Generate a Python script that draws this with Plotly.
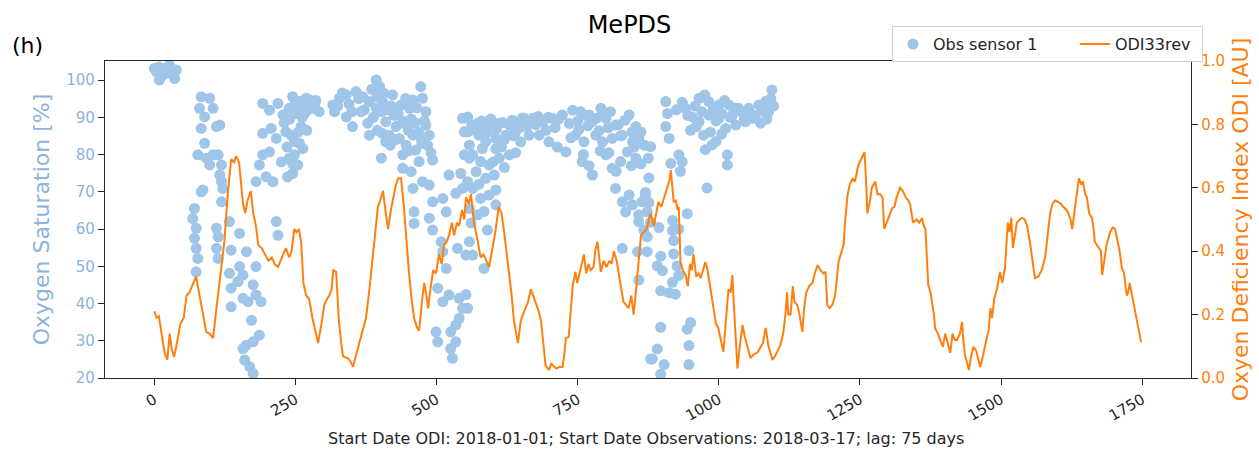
import plotly.graph_objects as go

# ---------------- data ----------------
# ODI33rev (days since 2018-01-01, index value)
odi_day = [0, 4, 8, 13, 18, 23, 27, 31, 35, 40, 46, 52, 57, 62, 67, 74, 79, 85, 92, 98,
           104, 110, 117, 124, 130, 136, 141, 145, 150, 154, 157, 161, 165, 171, 175, 180, 184, 190, 196, 202,
           208, 213, 219, 226, 233, 239, 243, 248, 252, 256, 260, 264, 269, 274, 280, 287, 290, 295, 301, 306,
           310, 314, 317, 322, 325, 327, 331, 334, 338, 343, 348, 352, 357, 361, 368, 375, 381, 387, 392, 396,
           400, 405, 410, 414, 419, 423, 428, 432, 437, 442, 446, 451, 455, 460, 465, 469, 474, 478, 482, 485,
           489, 494, 499, 504, 509, 513, 518, 522, 527, 531, 536, 540, 545, 549, 552, 557, 561, 566, 572, 578,
           583, 588, 593, 598, 604, 610, 615, 619, 624, 628, 633, 637, 641, 644, 647, 649, 655, 662, 667, 671,
           676, 681, 685, 689, 693, 699, 703, 706, 712, 718, 723, 726, 729, 734, 737, 741, 746, 749, 752, 757,
           761, 765, 769, 773, 778, 781, 785, 788, 791, 796, 801, 806, 810, 814, 819, 823, 827, 831, 836, 840,
           845, 849, 853, 856, 860, 862, 867, 872, 879, 885, 889, 893, 898, 903, 909, 912, 915, 918, 920, 924,
           927, 929, 932, 936, 941, 945, 949, 952, 955, 960, 964, 968, 972, 976, 980, 985, 991, 995, 999, 1004,
           1008, 1012, 1017, 1021, 1024, 1026, 1028, 1031, 1033, 1037, 1042, 1046, 1051, 1056, 1062, 1068, 1073, 1078, 1083, 1088,
           1092, 1095, 1100, 1105, 1109, 1114, 1118, 1121, 1123, 1127, 1131, 1134, 1139, 1143, 1148, 1151, 1155, 1160, 1166, 1170,
           1175, 1180, 1185, 1189, 1192, 1196, 1201, 1206, 1212, 1216, 1221, 1224, 1228, 1232, 1237, 1241, 1247, 1252, 1258, 1261,
           1263, 1267, 1271, 1277, 1281, 1286, 1290, 1293, 1300, 1307, 1311, 1315, 1321, 1326, 1331, 1336, 1339, 1344, 1350, 1355,
           1360, 1363, 1366, 1371, 1375, 1378, 1381, 1383, 1388, 1392, 1397, 1401, 1405, 1410, 1414, 1418, 1422, 1427, 1431, 1433,
           1436, 1440, 1443, 1447, 1451, 1456, 1460, 1463, 1468, 1472, 1475, 1478, 1481, 1484, 1488, 1493, 1498, 1502, 1507, 1510,
           1512, 1515, 1518, 1521, 1525, 1528, 1533, 1537, 1542, 1546, 1551, 1555, 1560, 1566, 1572, 1578, 1583, 1587, 1591, 1596,
           1601, 1606, 1610, 1613, 1616, 1619, 1623, 1626, 1630, 1634, 1638, 1642, 1645, 1649, 1652, 1656, 1661, 1664, 1666, 1670,
           1673, 1677, 1679, 1683, 1687, 1693, 1698, 1702, 1706, 1710, 1714, 1718, 1721, 1723, 1725, 1728, 1731, 1734, 1738, 1742,
           1748]
odi_val = [0.21, 0.19, 0.195, 0.14, 0.08, 0.057, 0.14, 0.09, 0.066, 0.11, 0.17, 0.19, 0.26, 0.27, 0.29, 0.32, 0.27, 0.21, 0.145, 0.14,
           0.126, 0.22, 0.33, 0.43, 0.58, 0.69, 0.68, 0.70, 0.68, 0.60, 0.55, 0.52, 0.56, 0.59, 0.52, 0.48, 0.42, 0.41, 0.39, 0.37,
           0.38, 0.36, 0.35, 0.38, 0.41, 0.38, 0.40, 0.47, 0.46, 0.47, 0.43, 0.30, 0.26, 0.25, 0.19, 0.135, 0.11, 0.16, 0.23, 0.25,
           0.26, 0.28, 0.34, 0.335, 0.25, 0.18, 0.11, 0.07, 0.065, 0.063, 0.05, 0.035, 0.07, 0.095, 0.14, 0.19, 0.28, 0.39, 0.48, 0.54,
           0.56, 0.59, 0.52, 0.47, 0.53, 0.57, 0.61, 0.63, 0.63, 0.54, 0.44, 0.335, 0.26, 0.19, 0.16, 0.15, 0.24, 0.30, 0.26, 0.22,
           0.28, 0.34, 0.33, 0.39, 0.36, 0.42, 0.43, 0.45, 0.49, 0.45, 0.49, 0.48, 0.53, 0.50, 0.57, 0.55, 0.58, 0.49, 0.44, 0.38,
           0.39, 0.37, 0.35, 0.40, 0.46, 0.54, 0.52, 0.47, 0.40, 0.335, 0.26, 0.18, 0.14, 0.11, 0.15, 0.18, 0.21, 0.24, 0.28, 0.26,
           0.24, 0.21, 0.18, 0.10, 0.04, 0.025, 0.045, 0.04, 0.03, 0.035, 0.035, 0.07, 0.126, 0.13, 0.20, 0.29, 0.335, 0.30, 0.32, 0.36,
           0.39, 0.33, 0.36, 0.34, 0.35, 0.40, 0.43, 0.38, 0.335, 0.37, 0.35, 0.37, 0.36, 0.40, 0.37, 0.325, 0.28, 0.24, 0.23, 0.22,
           0.26, 0.20, 0.27, 0.335, 0.40, 0.45, 0.46, 0.47, 0.52, 0.48, 0.52, 0.555, 0.54, 0.57, 0.60, 0.62, 0.656, 0.60, 0.555, 0.56,
           0.53, 0.54, 0.366, 0.34, 0.325, 0.29, 0.36, 0.34, 0.39, 0.32, 0.33, 0.315, 0.34, 0.366, 0.34, 0.28, 0.21, 0.17, 0.158, 0.12,
           0.082, 0.17, 0.28, 0.27, 0.325, 0.25, 0.19, 0.10, 0.03, 0.10, 0.167, 0.13, 0.095, 0.063, 0.075, 0.08, 0.095, 0.11, 0.158, 0.10,
           0.075, 0.057, 0.07, 0.09, 0.104, 0.14, 0.20, 0.27, 0.20, 0.20, 0.29, 0.24, 0.23, 0.20, 0.145, 0.22, 0.27, 0.29, 0.30, 0.33,
           0.356, 0.34, 0.33, 0.335, 0.23, 0.22, 0.23, 0.26, 0.366, 0.39, 0.42, 0.50, 0.577, 0.61, 0.63, 0.62, 0.67, 0.69, 0.713, 0.62,
           0.52, 0.55, 0.60, 0.62, 0.58, 0.58, 0.57, 0.47, 0.50, 0.536, 0.54, 0.57, 0.60, 0.59, 0.57, 0.56, 0.546, 0.49, 0.50, 0.49,
           0.505, 0.48, 0.47, 0.293, 0.27, 0.24, 0.20, 0.158, 0.14, 0.12, 0.098, 0.14, 0.11, 0.079, 0.14, 0.12, 0.12, 0.14, 0.177, 0.12,
           0.073, 0.04, 0.025, 0.07, 0.098, 0.085, 0.06, 0.035, 0.07, 0.11, 0.13, 0.15, 0.22, 0.19, 0.25, 0.284, 0.335, 0.30, 0.347, 0.44,
           0.49, 0.46, 0.505, 0.41, 0.45, 0.49, 0.50, 0.505, 0.50, 0.48, 0.43, 0.37, 0.315, 0.32, 0.34, 0.38, 0.45, 0.52, 0.55, 0.56,
           0.555, 0.55, 0.54, 0.536, 0.53, 0.52, 0.50, 0.47, 0.53, 0.58, 0.63, 0.61, 0.62, 0.58, 0.57, 0.52, 0.505, 0.47, 0.43, 0.42,
           0.41, 0.40, 0.325, 0.38, 0.42, 0.46, 0.475, 0.47, 0.44, 0.40, 0.347, 0.33, 0.28, 0.26, 0.27, 0.30, 0.27, 0.24, 0.20, 0.17,
           0.113]

# Obs sensor 1 (days on ODI axis, oxygen saturation %)
obs_day = [0, 4, 9, 18, 24, 30, 36, 39, 15, 33, 8, 27,
           83, 98, 104, 80, 89, 83, 110, 116, 89, 77, 92, 104, 113, 98, 119, 86, 83, 71,
           68, 74, 71, 74, 77, 74, 116, 119, 121, 119, 110, 113, 110, 113,
           133, 151, 136, 163, 180, 133, 151, 157, 136, 148, 157, 166, 175, 180, 189, 136,
           172, 186, 175, 163, 157, 160, 169, 175,
           192, 204, 219, 228, 192, 207, 216, 233, 204, 186, 192, 180, 198, 210, 216, 219,
           245, 257, 269, 278, 284, 239, 251, 266, 260, 242, 257, 263, 248, 239, 254, 245, 275, 263, 281,
           316, 328, 340, 357, 369, 381, 393, 399, 407, 422, 319, 340, 351, 366, 378, 381, 393, 410, 404, 416,
           428, 437, 452, 458, 472, 475, 481, 410, 434, 446, 440, 458, 463, 472, 481, 487, 402, 440, 455, 469,
           493, 458, 475, 487, 460, 460, 493, 511, 487, 493, 508, 517, 511, 517, 502, 522, 511, 540, 546, 540,
           534, 525, 499, 502, 534, 525, 528, 546, 549, 549, 543, 546, 555, 534, 522, 537, 552,
           555, 555, 558, 558, 573, 584, 599, 611, 629, 643, 655, 670, 688, 705, 723, 741, 755, 770, 791, 776,
           800, 817, 841, 853, 575, 587, 605, 623, 640, 664, 682, 699, 714, 729, 746, 761, 782, 794, 811, 829,
           847, 858, 564, 578, 593, 611, 629, 649, 605, 581, 758, 776, 800, 811, 826, 838, 853, 570, 587, 602,
           564, 578, 593, 605, 558, 573, 584, 561, 590, 564, 558, 584, 552, 555, 817, 829, 841, 835, 847, 858,
           864, 870, 873, 858, 867, 829, 856, 858, 879,
           906, 909, 906, 912, 879, 929, 935, 915, 932, 941, 965, 982, 1000, 1018, 1035, 1053, 1071, 1083, 1094, 1091,
           1088, 953, 965, 982, 1000, 1024, 1047, 1059, 1074, 1030, 1012, 973, 988, 976, 1015, 1015, 979, 876, 870, 876,
           879, 894, 873, 873, 918, 918, 920, 929, 944, 897, 891, 900, 920, 926, 947, 929, 918, 897, 912, 923,
           950, 897, 944, 947, 891, 882, 903, 947, 897,
           # denser band, days 560-870
           562, 568, 580, 590, 596, 606, 617, 620, 634, 637, 648, 652, 660, 676, 680, 694, 698, 710, 716, 735,
           738, 750, 752, 764, 768, 784, 788, 797, 804, 808, 822, 826, 834, 846, 850, 862, 868,
           615, 600, 620, 575, 605, 640, 760, 770, 790, 805, 818, 845, 862, 875,
           # denser cluster, days 325-495
           385, 395, 405, 412, 420, 425, 432, 440, 446, 450, 455, 462, 468, 474, 478, 484, 490, 450, 428, 418,
           395, 388, 402, 445, 465, 325, 333, 345, 362, 372, 350,
           # denser cluster, days 220-292
           250, 262, 272, 286, 292, 255, 270, 248, 235, 230, 240, 245, 236, 225,
           # denser cluster, days 925-1097
           925, 935, 945, 958, 970, 975, 990, 995, 1005, 1010, 1020, 1028, 1040, 1045, 1056, 1065, 1078, 1085, 1092, 1097,
           985, 995, 960, 950, 1005]
obs_sat = [103.1, 102.2, 100.0, 103.1, 101.8, 103.1, 100.4, 102.7, 101.3, 101.8, 103.5, 104.0,
           95.5, 95.1, 92.4, 92.4, 90.1, 87.0, 87.5, 87.9, 83.0, 79.9, 79.0, 79.9, 79.9, 77.2, 77.2, 70.5, 70.0, 65.5,
           62.8, 60.2, 57.5, 54.8, 52.1, 48.5, 74.5, 72.7, 70.9, 67.3, 60.2, 57.9, 54.8, 52.1,
           62.0, 58.8, 54.3, 53.9, 49.9, 48.1, 49.9, 47.6, 44.1, 45.9, 41.4, 40.5, 45.0, 42.3, 40.5, 39.1,
           35.5, 31.5, 29.7, 28.8, 27.9, 24.8, 23.0, 21.2,
           93.7, 91.9, 93.7, 90.6, 85.7, 87.0, 84.3, 86.1, 80.7, 77.2, 79.9, 72.7, 74.0, 72.7, 62.0, 58.3,
           95.5, 94.2, 95.1, 93.7, 93.3, 92.4, 91.0, 91.0, 87.5, 85.2, 83.0, 81.6, 79.9, 79.0, 77.2, 74.9, 94.6, 92.4, 92.4,
           93.3, 95.1, 96.0, 96.9, 95.5, 94.2, 100.0, 98.2, 96.4, 96.0, 91.5, 90.1, 87.5, 91.5, 88.4, 85.2, 92.4, 88.8, 85.7, 85.2,
           87.5, 93.3, 92.4, 94.6, 98.2, 95.1, 91.5, 83.4, 84.3, 82.5, 79.9, 85.2, 81.2, 84.3, 87.9, 85.2, 79.0, 76.3, 75.4, 78.1,
           78.5, 70.9, 72.7, 71.8, 64.6, 61.5, 67.3, 68.2, 62.9, 59.7, 56.6, 64.6, 53.9, 49.4, 44.1, 42.3, 40.5, 41.4, 38.7, 36.0,
           34.2, 32.4, 32.4, 29.7, 29.7, 27.9, 25.3, 89.7, 86.1, 79.9, 74.9, 70.9, 72.7, 69.6, 74.5, 54.8, 53.0,
           90.1, 86.1, 82.5, 79.0, 88.4, 87.5, 87.9, 88.4, 87.9, 88.4, 89.7, 89.7, 88.8, 89.7, 90.6, 91.9, 91.5, 90.6, 92.4, 88.8,
           89.7, 87.9, 90.6, 87.5, 85.2, 83.4, 84.3, 85.2, 86.1, 85.2, 85.2, 83.4, 82.0, 80.7, 85.2, 83.4, 85.2, 83.4, 84.3, 85.2,
           83.4, 84.3, 79.9, 78.1, 77.2, 79.0, 79.9, 83.4, 81.6, 81.6, 78.1, 74.5, 79.9, 76.3, 78.1, 80.7, 79.0, 75.4, 73.6, 74.5,
           70.9, 68.2, 69.1, 66.5, 65.5, 63.8, 64.7, 61.6, 59.7, 53.0, 56.6, 49.4, 42.4, 38.7, 70.9, 67.3, 69.1, 64.6, 66.5, 63.8,
           67.3, 69.1, 64.6, 62.0, 59.7, 54.8, 53.9, 46.3, 25.1,
           94.2, 91.0, 87.5, 84.3, 82.1, 79.9, 78.1, 77.6, 75.5, 92.4, 95.1, 94.2, 93.3, 93.3, 92.4, 92.4, 93.3, 94.2, 97.3, 93.7,
           91.5, 90.1, 88.8, 90.6, 89.7, 90.6, 88.8, 89.7, 88.4, 87.9, 87.0, 85.2, 82.6, 81.3, 79.9, 77.2, 71.0, 73.7, 69.8, 67.1,
           61.8, 60.4, 57.9, 53.9, 62.3, 59.6, 56.9, 60.0, 64.1, 52.7, 50.1, 48.8, 53.3, 50.1, 54.2, 47.5, 45.7, 43.4, 42.9, 42.5,
           34.9, 33.6, 33.1, 28.7, 27.8, 25.1, 23.6, 23.6, 21.0,
           88.0, 86.5, 89.0, 86.0, 89.5, 86.8, 88.6, 84.0, 89.2, 85.0, 87.3, 89.8, 87.5, 88.0, 90.2, 86.5, 90.0, 87.2, 89.5, 88.3,
           84.5, 89.0, 86.7, 90.5, 87.7, 89.8, 86.4, 91.0, 87.2, 91.5, 88.0, 85.0, 89.2, 86.0, 82.0, 86.0, 82.5,
           82.0, 78.0, 76.5, 72.0, 70.5, 80.5, 80.0, 77.0, 81.0, 80.5, 75.5, 77.0, 77.5, 79.0,
           97.5, 95.5, 94.0, 92.0, 93.0, 90.5, 91.0, 89.0, 88.0, 86.5, 89.5, 88.5, 86.0, 83.0, 89.0, 82.5, 80.5, 81.0, 84.0, 82.5,
           86.5, 90.0, 91.5, 95.0, 92.5, 93.0, 96.5, 93.5, 95.0, 92.0, 91.5,
           93.5, 90.0, 92.0, 94.5, 91.5, 86.0, 86.5, 83.5, 82.0, 88.5, 89.5, 77.5, 74.0, 78.0,
           92.0, 94.0, 90.5, 93.0, 91.5, 96.0, 92.0, 89.0, 91.0, 94.5, 90.0, 92.5, 91.5, 89.5, 91.0, 90.5, 91.8, 89.5, 95.0, 93.0,
           86.0, 83.5, 87.5, 86.5, 85.5]

x_ticks = [0, 250, 500, 750, 1000, 1250, 1500, 1750]
y1_ticks = [20, 30, 40, 50, 60, 70, 80, 90, 100]
y2_ticks = [0.0, 0.2, 0.4, 0.6, 0.8, 1.0]
y2_ticklabels = ["0.0", "0.2", "0.4", "0.6", "0.8", "1.0"]

# ---------------- styles ----------------
FONT = "DejaVu Sans"
BLUE = "#9FC5E8"
BLUE_TXT = "#8AB4DE"
ORANGE = "#FF7F0E"
AXIS = "#262626"

fig = go.Figure()
fig.add_trace(go.Scatter(
    x=obs_day, y=obs_sat, mode="markers", name="Obs sensor 1",
    marker=dict(size=11, color=BLUE, line=dict(width=0)), yaxis="y",
    legendwidth=137))
fig.add_trace(go.Scatter(
    x=odi_day, y=odi_val, mode="lines", name="ODI33rev",
    line=dict(color=ORANGE, width=2), yaxis="y2", legendwidth=82))

fig.update_layout(
    width=1259, height=449,
    margin=dict(l=105, r=68, t=61, b=71),
    plot_bgcolor="white", paper_bgcolor="white",
    font=dict(family=FONT, size=15, color=AXIS),
    title=dict(text="MePDS", x=0.5, xref="container", xanchor="center",
               y=1 - 25 / 449, yref="container", yanchor="middle",
               font=dict(size=24, color="black")),
    showlegend=True,
    legend=dict(orientation="h", x=1.011, xanchor="right", y=1.11, yanchor="top",
                bgcolor="white", bordercolor="#d0d0d0", borderwidth=1,
                font=dict(size=16, color=AXIS)),
    xaxis=dict(range=[-87.45, 1836.45], tickvals=x_ticks, tickangle=-30,
               ticks="outside", ticklen=6, tickcolor=AXIS, showline=True, linecolor=AXIS,
               linewidth=1.3, mirror=True, showgrid=False, zeroline=False,
               tickfont=dict(size=15, color=AXIS)),
    yaxis=dict(range=[20, 105.1], tickvals=y1_ticks, ticks="outside", ticklen=6,
               tickcolor=AXIS, showline=True, linecolor=AXIS, linewidth=1.3, mirror=True,
               showgrid=False, zeroline=False, tickfont=dict(size=15, color=BLUE_TXT),
               title=dict(text="Oxygen Saturation [%]", font=dict(size=22, color=BLUE_TXT), standoff=10)),
    yaxis2=dict(range=[0, 1], overlaying="y", side="right", tickvals=y2_ticks,
                ticktext=y2_ticklabels, ticks="outside", ticklen=6, tickcolor=AXIS,
                showline=True, linecolor=AXIS, linewidth=1.3, showgrid=False, zeroline=False,
                tickfont=dict(size=15, color=ORANGE),
                title=dict(text="Oxyen Deficiency Index ODI [AU]", font=dict(size=22, color=ORANGE), standoff=8)),
    annotations=[
        dict(text="(h)", xref="paper", yref="paper", x=(10 - 105) / 1086, y=(378 - 45) / 317,
             xanchor="left", yanchor="middle", showarrow=False, font=dict(size=22, color="black")),
        dict(text="Start Date ODI: 2018-01-01; Start Date Observations: 2018-03-17; lag: 75 days",
             xref="paper", yref="paper", x=0.4986, y=(378 - 438) / 317, xanchor="center",
             yanchor="middle", showarrow=False, font=dict(size=16, color=AXIS)),
    ],
)

fig.write_html("out.html")
